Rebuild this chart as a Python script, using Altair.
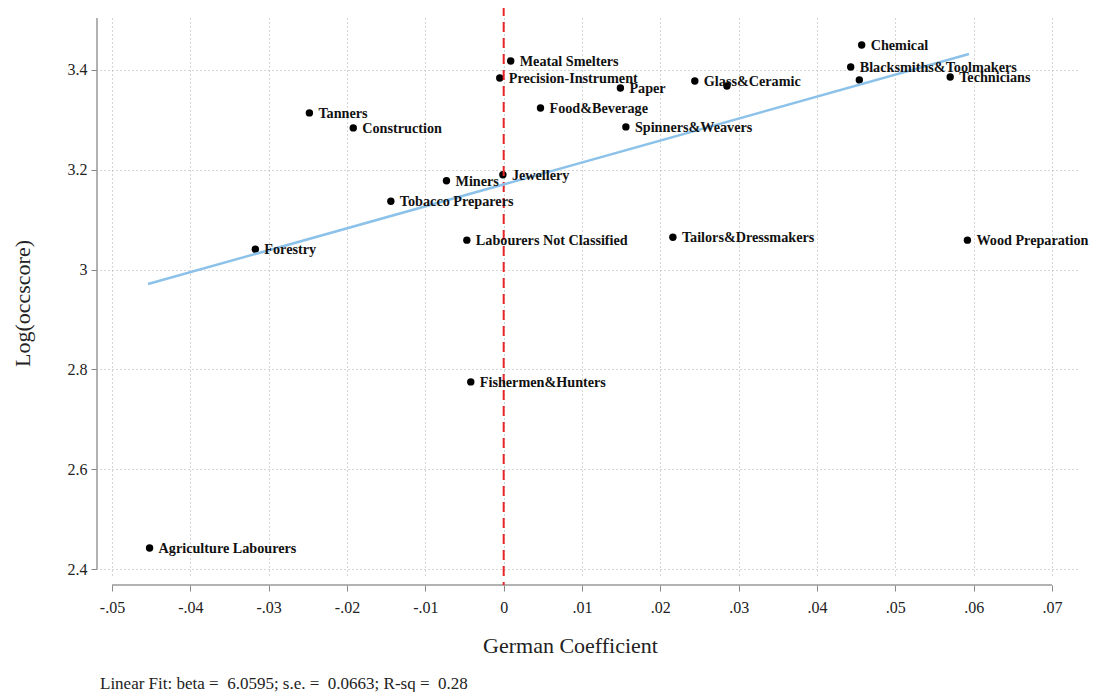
import altair as alt
import pandas as pd

labels = ["Meatal Smelters", "Precision-Instrument", "Paper", "Food&Beverage", "Spinners&Weavers",
          "Tanners", "Construction", "Chemical", "Blacksmiths&Toolmakers", "", "Technicians",
          "Glass&Ceramic", "", "Miners", "Jewellery", "Tobacco Preparers",
          "Labourers Not Classified", "Tailors&Dressmakers", "Wood Preparation", "Forestry",
          "Fishermen&Hunters", "Agriculture Labourers"]
german_coef = [0.0009, -0.0005, 0.0149, 0.0047, 0.0156,
               -0.0248, -0.0192, 0.0457, 0.0443, 0.0454, 0.0570,
               0.0244, 0.0285, -0.0073, -0.0001, -0.0144,
               -0.0047, 0.0216, 0.0592, -0.0317,
               -0.0042, -0.0452]
log_occscore = [3.418, 3.384, 3.364, 3.324, 3.286,
                3.314, 3.284, 3.450, 3.406, 3.380, 3.386,
                3.378, 3.368, 3.178, 3.190, 3.137,
                3.059, 3.065, 3.059, 3.041,
                2.775, 2.442]

fit_x = [-0.0454, 0.0594]
fit_y = [2.971, 3.432]

x_ticks = [-0.05, -0.04, -0.03, -0.02, -0.01, 0.0, 0.01, 0.02, 0.03, 0.04, 0.05, 0.06, 0.07]
y_ticks = [2.4, 2.6, 2.8, 3.0, 3.2, 3.4]
x_domain = [-0.05153, 0.07357]
y_domain = [2.388, 3.5042]
note = "Linear Fit: beta =\u00a0 6.0595; s.e. =\u00a0 0.0663; R-sq =\u00a0 0.28"

FONT = "Liberation Serif"
W, H = 980, 557

df = pd.DataFrame({"label": labels, "x": german_coef, "y": log_occscore})
fit = pd.DataFrame({"x": fit_x, "y": fit_y})
xaxis_df = pd.DataFrame({"x": [x_ticks[0]], "x2": [x_ticks[-1]]})
yaxis_df = pd.DataFrame({"y": [y_ticks[0]]})

xs = alt.Scale(domain=x_domain, nice=False, zero=False)
ys = alt.Scale(domain=y_domain, nice=False, zero=False)

x_axis = alt.Axis(
    values=x_ticks, domain=False, offset=10, tickSize=6, tickColor="#888",
    labelExpr="abs(datum.value) < 1e-9 ? '0' : replace(replace(format(datum.value, '.2f'), '0.', '.'), '\u2212', '-')",
    labelFont=FONT, labelFontSize=16, labelColor="#222", labelPadding=8,
    title="German Coefficient", titleFont=FONT, titleFontSize=22, titleFontWeight="normal",
    titleColor="#222", titleX=470, titleY=50,
    grid=True, gridDash=[1, 3], gridColor="#aaa", gridWidth=1,
)
y_axis = alt.Axis(
    values=y_ticks, domain=False, offset=3, tickSize=6, tickColor="#888",
    format=".1~f", labelFont=FONT, labelFontSize=16, labelColor="#222", labelPadding=4,
    labelAngle=0,
    title="Log(occscore)", titleFont=FONT, titleFontSize=22, titleFontWeight="normal",
    titleColor="#222", titleX=-75, titleY=285, titleBaseline="middle",
    grid=True, gridDash=[1, 3], gridColor="#aaa", gridWidth=1,
)

points = alt.Chart(df).mark_circle(size=55, color="black", opacity=1).encode(
    x=alt.X("x:Q", scale=xs, axis=x_axis),
    y=alt.Y("y:Q", scale=ys, axis=y_axis),
)
text = alt.Chart(df).mark_text(
    align="left", baseline="middle", dx=9, dy=1, font=FONT, fontSize=14.2,
    fontWeight="bold", color="#111"
).encode(x=alt.X("x:Q", scale=xs), y=alt.Y("y:Q", scale=ys), text="label:N")

xline = alt.Chart(xaxis_df).mark_rule(color="#999", strokeWidth=1.5).encode(
    x=alt.X("x:Q", scale=xs), x2="x2:Q", y=alt.value(H + 10)
)
yline = alt.Chart(yaxis_df).mark_rule(color="#999", strokeWidth=1.5).encode(
    y=alt.Y("y:Q", scale=ys), y2=alt.value(0), x=alt.value(-3)
)
zero_df = pd.DataFrame({"x": [0.0]})
zero_line = alt.Chart(zero_df).mark_rule(color="#e8262a", strokeWidth=2, strokeDash=[10, 6]).encode(
    x=alt.X("x:Q", scale=xs), y=alt.value(-12), y2=alt.value(H + 10)
)
fit_line = alt.Chart(fit).mark_line(color="#8cc2ea", strokeWidth=2.5).encode(
    x=alt.X("x:Q", scale=xs), y=alt.Y("y:Q", scale=ys)
)
note_df = pd.DataFrame({"t": [note]})
note_text = alt.Chart(note_df).mark_text(
    align="left", baseline="middle", font=FONT, fontSize=17, color="#222"
).encode(x=alt.value(0), y=alt.value(666), text="t:N")

chart = alt.layer(points, xline, yline, zero_line, fit_line, text, note_text).properties(
    width=W, height=H,
    autosize=alt.AutoSizeParams(type="none"),
    padding={"left": 92, "top": 10, "right": 12, "bottom": 117},
    background="white",
).configure_view(stroke=None)

chart.save("out.html", embed_options={"renderer": "svg", "actions": False})
